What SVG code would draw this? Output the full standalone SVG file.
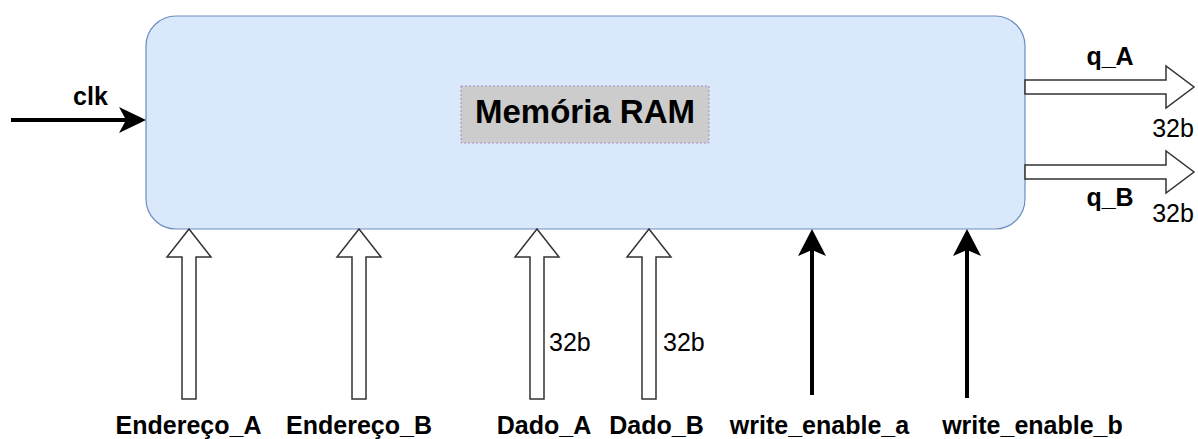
<svg xmlns="http://www.w3.org/2000/svg" width="1198" height="439" viewBox="0 0 1198 439">
  <style>
    .lbl { font-family: "Liberation Sans", Arial, sans-serif; font-size: 25px; font-weight: bold; fill: #000; }
    .bits { font-family: "Liberation Sans", Arial, sans-serif; font-size: 25px; fill: #000; }
    .bus { fill: #fff; stroke: #333; stroke-width: 1.5; stroke-linejoin: miter; }
    .wire { stroke: #000; stroke-width: 4; fill: none; }
    .head { fill: #000; stroke: none; }
  </style>
  <rect width="1198" height="439" fill="#fff"/>

  <!-- RAM block -->
  <g id="ram">
    <rect x="146" y="16" width="879" height="213" rx="30" ry="30" fill="#dae8fc" stroke="#6c8ebf" stroke-width="1.2"/>
    <rect x="461" y="86" width="248" height="57" fill="#cccccc" stroke="#a68fc4" stroke-width="1" stroke-dasharray="2 2"/>
    <text class="lbl" x="585" y="123" text-anchor="middle" style="font-size:33px">Memória RAM</text>
  </g>

  <!-- connectors -->
  <g id="connectors">
    <!-- clock -->
    <line class="wire" x1="11" y1="120" x2="134" y2="120"/>
    <polygon class="head" points="146,120 119,107 126,120 119,133"/>
    <!-- output buses -->
    <path class="bus" d="M1025,80 H1166 V66 L1194,87 L1166,108 V94 H1025 Z"/>
    <path class="bus" d="M1025,165 H1166 V151 L1194,172 L1166,193 V179 H1025 Z"/>
    <!-- address and data buses -->
    <path class="bus" d="M182,399 V257 H167 L189,229 L211,257 H196 V399 Z"/>
    <path class="bus" d="M352,399 V257 H337 L359,229 L381,257 H366 V399 Z"/>
    <path class="bus" d="M530,399 V257 H515 L537,229 L559,257 H544 V399 Z"/>
    <path class="bus" d="M642,399 V257 H627 L649,229 L671,257 H656 V399 Z"/>
    <!-- write enables -->
    <line class="wire" x1="812" y1="395" x2="812" y2="245"/>
    <polygon class="head" points="812,229 798,256 812,250 826,256"/>
    <line class="wire" x1="967" y1="398" x2="967" y2="245"/>
    <polygon class="head" points="967,229 953,256 967,250 981,256"/>
  </g>

  <!-- signal labels -->
  <g id="labels">
    <text class="lbl" x="90.5" y="105" text-anchor="middle">clk</text>
    <text class="lbl" x="1110" y="65" text-anchor="middle">q_A</text>
    <text class="bits" x="1173" y="137" text-anchor="middle">32b</text>
    <text class="lbl" x="1110" y="206" text-anchor="middle">q_B</text>
    <text class="bits" x="1173" y="222" text-anchor="middle">32b</text>
    <text class="bits" x="549" y="351">32b</text>
    <text class="bits" x="663" y="351">32b</text>
    <text class="lbl" x="188.5" y="434" text-anchor="middle">Endereço_A</text>
    <text class="lbl" x="359" y="434" text-anchor="middle">Endereço_B</text>
    <text class="lbl" x="544" y="434" text-anchor="middle">Dado_A</text>
    <text class="lbl" x="656.5" y="434" text-anchor="middle">Dado_B</text>
    <text class="lbl" x="819.5" y="434" text-anchor="middle">write_enable_a</text>
    <text class="lbl" x="1032.5" y="434" text-anchor="middle">write_enable_b</text>
  </g>
</svg>
